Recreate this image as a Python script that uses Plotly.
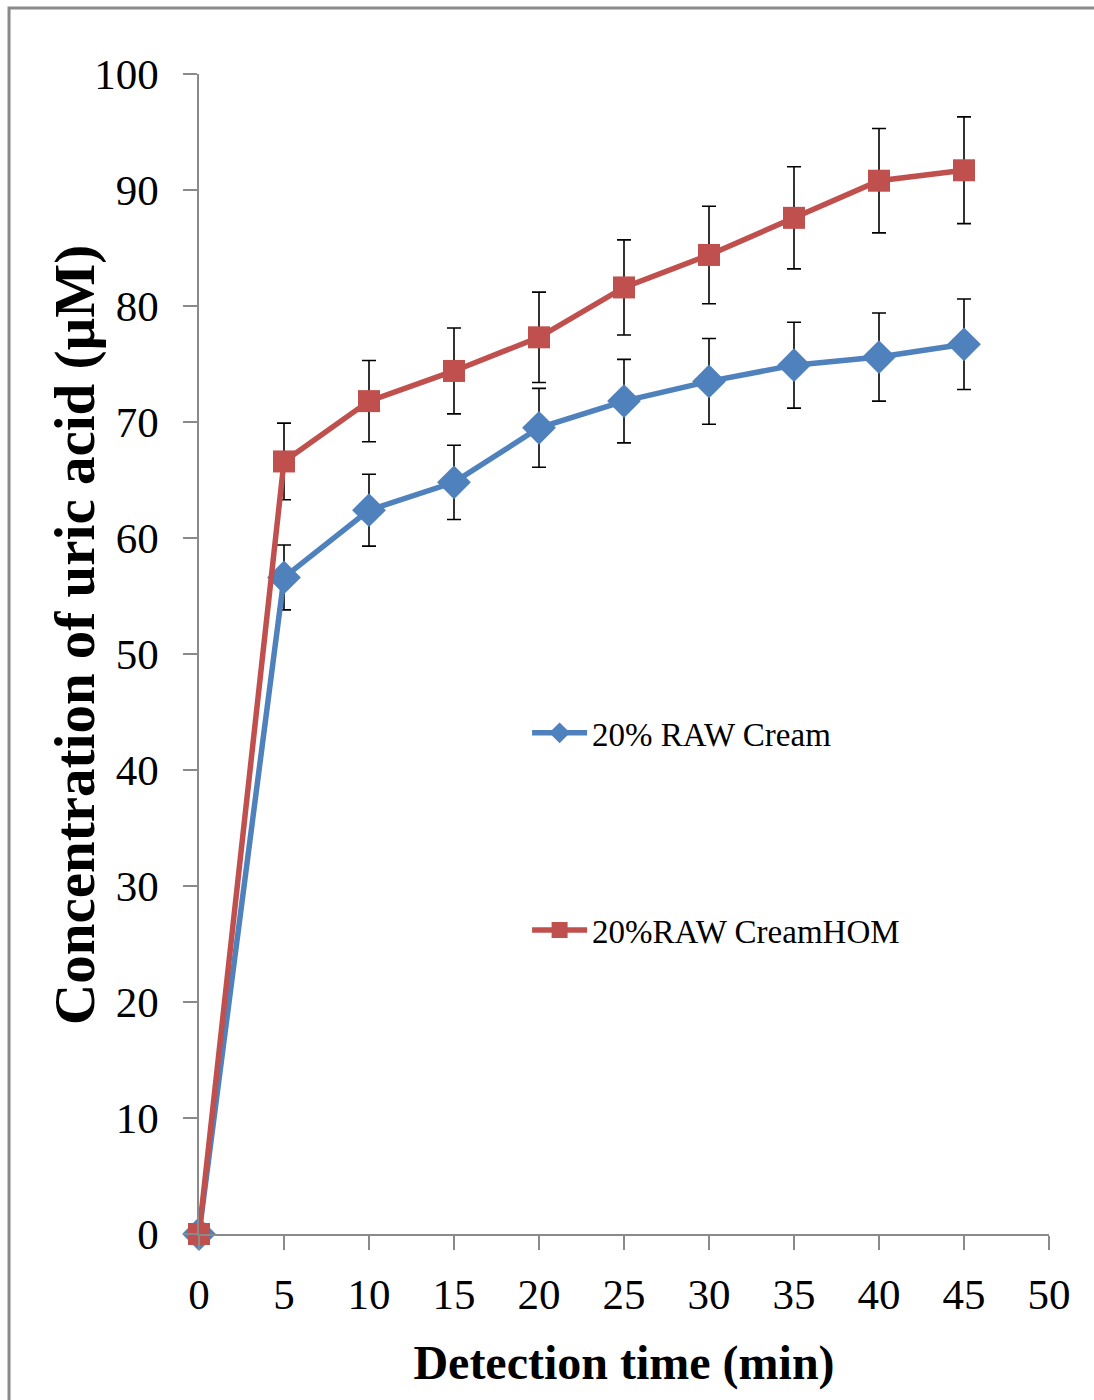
import plotly.graph_objects as go

time_min = [0, 5, 10, 15, 20, 25, 30, 35, 40, 45]
raw_cream = [0, 56.6, 62.4, 64.8, 69.5, 71.8, 73.5, 74.9, 75.6, 76.7]
raw_cream_err = [0, 2.8, 3.1, 3.2, 3.4, 3.6, 3.7, 3.7, 3.8, 3.9]
raw_cream_hom = [0, 66.6, 71.8, 74.4, 77.3, 81.6, 84.4, 87.6, 90.8, 91.7]
raw_cream_hom_err = [0, 3.3, 3.5, 3.7, 3.9, 4.1, 4.2, 4.4, 4.5, 4.6]

x_ticks = [0, 5, 10, 15, 20, 25, 30, 35, 40, 45, 50]
y_ticks = [0, 10, 20, 30, 40, 50, 60, 70, 80, 90, 100]

BLUE = "#4F81BD"
RED = "#C0504D"
AXIS = "#8a8a8a"
FONT = "Liberation Serif"

fig = go.Figure()
fig.add_trace(go.Scatter(
    x=time_min, y=raw_cream, name="20% RAW Cream", mode="lines+markers",
    line=dict(color=BLUE, width=5.5),
    marker=dict(symbol="diamond", size=26, color=BLUE),
    error_y=dict(type="data", array=raw_cream_err, color="black", thickness=1.6, width=7),
    cliponaxis=False, legend="legend",
))
fig.add_trace(go.Scatter(
    x=time_min, y=raw_cream_hom, name="20%RAW CreamHOM", mode="lines+markers",
    line=dict(color=RED, width=5.5),
    marker=dict(symbol="square", size=22, color=RED),
    error_y=dict(type="data", array=raw_cream_hom_err, color="black", thickness=1.6, width=7),
    cliponaxis=False, legend="legend2",
))

legend_common = dict(
    font=dict(family=FONT, size=33, color="black"),
    bgcolor="rgba(0,0,0,0)", itemwidth=55, xanchor="left", yanchor="middle",
)

fig.update_layout(
    width=1094, height=1400,
    margin=dict(l=199, r=45, t=74, b=166),
    paper_bgcolor="white", plot_bgcolor="white",
    showlegend=True,
    legend=dict(x=0.386, y=0.432, **legend_common),
    legend2=dict(x=0.386, y=0.262, **legend_common),
    font=dict(family=FONT, color="black"),
    xaxis=dict(
        range=[0, 50], tickvals=x_ticks, ticktext=[str(v) for v in x_ticks],
        showline=True, linecolor=AXIS, linewidth=1.5, showgrid=False, zeroline=False,
        ticks="outside", ticklen=14, tickcolor=AXIS, tickwidth=1.5,
        ticklabelstandoff=8,
        tickfont=dict(family=FONT, size=43, color="black"),
        title=dict(text="<b>Detection time (min)</b>", font=dict(family=FONT, size=48, color="black"), standoff=28),
    ),
    yaxis=dict(
        range=[0, 100], tickvals=y_ticks, ticktext=[str(v) for v in y_ticks],
        showline=True, linecolor=AXIS, linewidth=1.5, showgrid=False, zeroline=False,
        ticks="outside", ticklen=14, tickcolor=AXIS, tickwidth=1.5,
        ticklabelstandoff=16,
        tickfont=dict(family=FONT, size=43, color="black"),
    ),
    annotations=[dict(
        text="<b>Concentration of uric acid (µM)</b>", xref="paper", yref="paper",
        x=-0.146, y=0.5164, xanchor="center", yanchor="middle", textangle=-90,
        showarrow=False, font=dict(family=FONT, size=57, color="black"),
    )],
    shapes=[dict(
        type="rect", xref="paper", yref="paper",
        x0=-0.2235, x1=1.3, y0=-0.3, y1=1.0569,
        line=dict(color=AXIS, width=3), fillcolor="rgba(0,0,0,0)", layer="below",
    )],
)

fig.write_html("out.html")
